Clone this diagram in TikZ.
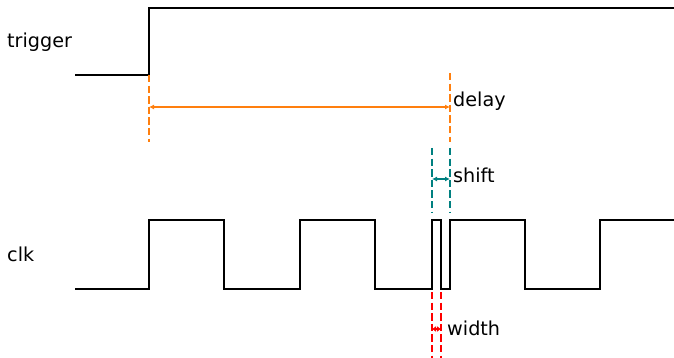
\documentclass[tikz,border=0pt]{standalone}
\usepackage{fontspec}
\setmainfont{DejaVu Sans}
\usetikzlibrary{arrows.meta}
\definecolor{trigorange}{HTML}{FF7F0E}
\definecolor{shiftteal}{HTML}{008080}
\definecolor{widthred}{HTML}{FF0000}

\begin{document}
\begin{tikzpicture}[x=1pt,y=-1pt]
	\useasboundingbox (0,0) rectangle (674,358);
	\tikzstyle{signal}=[line width=2.8pt,black,line join=miter]
	\tikzstyle{marker}=[line width=2.8pt,dash pattern=on 7.4pt off 3.2pt]
	\tikzstyle{dim}=[line width=1.1pt,{Latex[length=5pt,width=5pt]}-{Latex[length=5pt,width=5pt]}]
	\tikzstyle{label}=[inner sep=0pt,anchor=west,font=\fontsize{19.2}{23}\selectfont]
	
	% signal names
	\node[label] (trig) at (7,42) {trigger};
	\node[label] (clk) at (7,254) {clk};
	
	% waveforms
	\draw[signal] (75,75) -- (149,75) -- (149,8) -- (674,8);
	\draw[signal] (75,289) -| (149,220) -| (224,289) -| (300,220) -| (375,289)
		-| (432,220) -| (441,289) -| (450,220) -| (525,289) -| (600,220) -- (674,220);
	
	% delay
	\draw[marker,trigorange] (149,75) -- (149,142);
	\draw[marker,trigorange] (450,73) -- (450,142);
	\coordinate (d1) at (149,107);
	\coordinate (d2) at (450,107);
	\draw[dim,trigorange] (d1) -- (d2);
	\node[label] (delay) at (453,101) {delay};
	
	% shift
	\draw[marker,shiftteal] (432,148) -- (432,212);
	\draw[marker,shiftteal] (450,148) -- (450,212);
	\coordinate (s1) at (432,179);
	\coordinate (s2) at (450,179);
	\draw[dim,shiftteal,line width=1.4pt] (s1) -- (s2);
	\node[label] (shift) at (453,175) {shift};
	
	% width
	\draw[marker,widthred] (432,292) -- (432,358);
	\draw[marker,widthred] (441,292) -- (441,358);
	\coordinate (w1) at (432,329);
	\coordinate (w2) at (441,329);
	\draw[line width=1.4pt,widthred,{Latex[length=4pt,width=6pt]}-{Latex[length=4pt,width=6pt]}] (w1) -- (w2);
	\node[label] (width) at (447,328) {width};
\end{tikzpicture}
\end{document}
